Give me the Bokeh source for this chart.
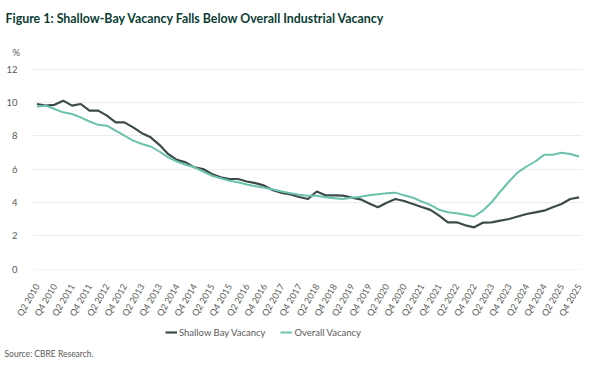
import math
from bokeh.plotting import figure
from bokeh.layouts import column
from bokeh.models import (Range1d, FixedTicker, Legend, LegendItem, Label,
                          ColumnDataSource, Title)
from bokeh.embed import file_html
from bokeh.resources import INLINE

# ---- data -------------------------------------------------------------
quarters = [f"Q{q} {y}" for y in range(2010, 2026) for q in range(1, 5)
            if not (y == 2010 and q == 1)]

shallow_bay = [9.9, 9.8, 9.85, 10.1, 9.8, 9.9, 9.5, 9.5, 9.2, 8.8,
               8.8, 8.5, 8.15, 7.9, 7.45, 6.9, 6.55, 6.4, 6.1, 6.0,
               5.7, 5.5, 5.4, 5.4, 5.25, 5.15, 5.0, 4.73, 4.57, 4.47,
               4.32, 4.2, 4.65, 4.42, 4.42, 4.4, 4.28, 4.18, 3.93, 3.7,
               3.98, 4.2, 4.08, 3.9, 3.72, 3.55, 3.2, 2.8, 2.8, 2.62,
               2.5, 2.78, 2.8, 2.9, 3.0, 3.15, 3.3, 3.4, 3.5, 3.7,
               3.9, 4.2, 4.3]

overall = [9.75, 9.8, 9.6, 9.4, 9.3, 9.1, 8.85, 8.65, 8.6, 8.3,
           8.0, 7.7, 7.5, 7.35, 7.05, 6.7, 6.45, 6.25, 6.1, 5.85,
           5.6, 5.45, 5.3, 5.2, 5.07, 4.97, 4.87, 4.77, 4.65, 4.55,
           4.45, 4.4, 4.4, 4.3, 4.25, 4.2, 4.28, 4.34, 4.42, 4.48,
           4.54, 4.58, 4.42, 4.28, 4.05, 3.85, 3.55, 3.4, 3.35, 3.25,
           3.15, 3.5, 4.0, 4.65, 5.25, 5.8, 6.15, 6.45, 6.85, 6.85,
           6.97, 6.9, 6.75]

y_ticks = [0, 2, 4, 6, 8, 10, 12]
series_names = ["Shallow Bay Vacancy", "Overall Vacancy"]
title_text = "Figure 1: Shallow-Bay Vacancy Falls Below Overall Industrial Vacancy"
unit_text = "%"
source_text = "Source: CBRE Research."

# ---- styles -----------------------------------------------------------
FONT = "Lato"
GREY = "#5a5a5a"
DARK = "#3d4b48"
TEAL = "#6ac2ad"
W = 584
H_MAIN = 323
H_FOOT = 36

idx = list(range(len(quarters)))
src = ColumnDataSource(dict(x=idx, q=quarters, sb=shallow_bay, ov=overall))

x0, x1 = -0.515, len(quarters) - 1 + 0.4
y0, y1 = -0.03, 12.03

# ---- main chart -------------------------------------------------------
p = figure(width=W, height=H_MAIN, output_backend="svg", toolbar_location=None,
           x_range=Range1d(x0, x1), y_range=Range1d(y0, y1),
           min_border_left=32, min_border_right=2, min_border_top=68,
           min_border_bottom=50)
p.frame_align = False
p.outline_line_color = None
p.background_fill_color = "white"
p.border_fill_color = "white"

p.xgrid.grid_line_color = None
p.ygrid.grid_line_color = "#ececec"
p.ygrid.grid_line_width = 1

p.yaxis.ticker = FixedTicker(ticks=y_ticks)
p.xaxis.ticker = FixedTicker(ticks=idx[::2])
p.xaxis.major_label_overrides = {i: quarters[i] for i in idx[::2]}
p.xaxis.major_label_orientation = math.pi / 3

for ax in (p.xaxis, p.yaxis):
    ax.axis_line_color = None
    ax.major_tick_line_color = None
    ax.minor_tick_line_color = None
    ax.major_label_text_font = FONT
    ax.major_label_text_color = GREY
p.yaxis.major_label_text_font_size = "9.5px"
p.yaxis.major_label_standoff = 9
p.xaxis.major_label_text_font_size = "9px"
p.xaxis.major_label_standoff = 9

p.line("x", "sb", source=src, line_color=DARK, line_width=2.2)
p.line("x", "ov", source=src, line_color=TEAL, line_width=2)

# titles above: the first added sits closest to the frame
p.add_layout(Title(text=unit_text, align="left", offset=-20, standoff=21,
                   text_font=FONT, text_font_size="9.5px",
                   text_font_style="normal", text_color=GREY), "above")
p.add_layout(Title(text=title_text, align="left", offset=-27, standoff=17,
                   text_font=FONT, text_font_size="12.4px",
                   text_font_style="bold", text_color="#0b3d33"), "above")

# ---- footer: legend + source -------------------------------------------
f = figure(width=W, height=H_FOOT, output_backend="svg", toolbar_location=None,
           x_range=Range1d(0, W), y_range=Range1d(0, H_FOOT),
           min_border_left=0, min_border_right=0, min_border_top=0,
           min_border_bottom=0, x_axis_type=None, y_axis_type=None)
f.frame_align = False
f.outline_line_color = None
f.xgrid.visible = False
f.ygrid.visible = False
f.background_fill_color = "white"
f.border_fill_color = "white"

k1 = f.line("x", "sb", source=src, line_color=DARK, line_width=2.2, visible=False)
k2 = f.line("x", "ov", source=src, line_color=TEAL, line_width=2, visible=False)

legend = Legend(items=[LegendItem(label=series_names[0], renderers=[k1]),
                       LegendItem(label=series_names[1], renderers=[k2])],
                orientation="horizontal", location=(165, 21),
                glyph_width=12, glyph_height=12, label_height=12,
                label_standoff=2, spacing=15, padding=0, margin=0,
                border_line_color=None, background_fill_alpha=0,
                inactive_fill_alpha=0,
                label_text_font=FONT, label_text_font_size="9.5px",
                label_text_color=GREY)
f.add_layout(legend)

f.add_layout(Label(x=4, y=6, text=source_text, text_font=FONT,
                   text_font_size="8.5px", text_color=GREY,
                   text_baseline="alphabetic", text_align="left"))

layout = column(p, f, spacing=0)
open("out.html", "w").write(file_html(layout, INLINE))
